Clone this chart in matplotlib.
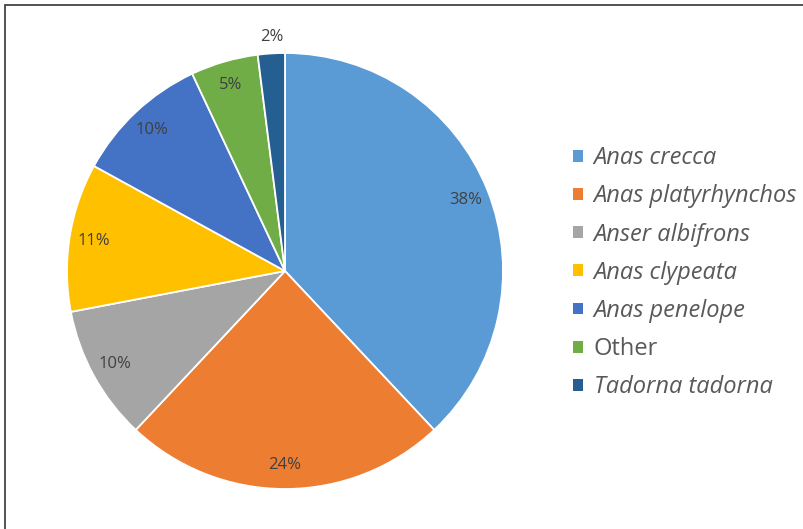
import matplotlib
matplotlib.use('Agg')

import matplotlib.pyplot as plt
from matplotlib.patches import Patch, Rectangle

# --- Data ---
species = ['Anas crecca', 'Anas platyrhynchos', 'Anser albifrons', 'Anas clypeata',
           'Anas penelope', 'Other', 'Tadorna tadorna']
shares = [38, 24, 10, 11, 10, 5, 2]
colors = ['#5B9BD5', '#ED7D31', '#A5A5A5', '#FFC000', '#4472C4', '#70AD47', '#255E91']

W, H = 804, 529
fig = plt.figure(figsize=(W / 100, H / 100), dpi=100)

# frame line (top and left visible, picture cropped on the other sides)
fig.patches.append(Rectangle((5 / W, -0.1), 1.2, (H - 5) / H + 0.1, transform=fig.transFigure,
                             fill=False, edgecolor='#444444', linewidth=1.3))

# pie axes placed in pixel terms
cx, cy, r = 285, 271, 218
ax = fig.add_axes([(cx - r) / W, (H - cy - r) / H, 2 * r / W, 2 * r / H])

wedges, texts = ax.pie(shares, colors=colors, startangle=90, counterclock=False,
                       labels=[f'{v}%' for v in shares], labeldistance=0.89,
                       wedgeprops=dict(edgecolor='white', linewidth=1.3),
                       textprops=dict(color='#404040', fontsize=12, family='Open Sans',
                                      ha='center', va='center'))
ax.set_xlim(-1, 1)
ax.set_ylim(-1, 1)
ax.set_aspect('equal')
ax.axis('off')

# 2% label sits outside the slice
texts[-1].set_position((-0.06, 1.075))

handles = [Patch(facecolor=c, edgecolor='none') for c in colors]
leg = fig.legend(handles, species, loc='upper left', bbox_to_anchor=(552 / W, 1 - 125 / H),
                 frameon=False, handlelength=0.4, handleheight=0.4, handletextpad=0.47,
                 labelspacing=0.6, prop=dict(family='Open Sans', size=17))
for t in leg.get_texts():
    t.set_color('#595959')
    if t.get_text() != 'Other':
        t.set_style('italic')

fig.savefig('out.png', dpi=100)
